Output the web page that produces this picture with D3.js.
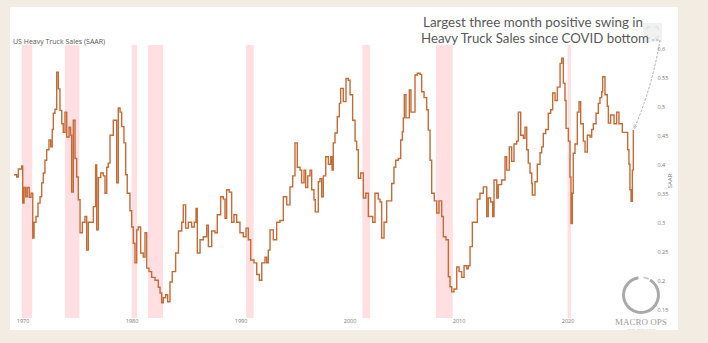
<!DOCTYPE html>
<html>
<head>
<meta charset="utf-8">
<script src="https://cdn.jsdelivr.net/npm/d3@7"></script>
<style>
html,body{margin:0;padding:0;background:#f3ece2;}
svg{display:block;}
</style>
</head>
<body>
<svg id="chart" width="708" height="343"></svg>
<script>
// ---- data ----
const years = [
1969.21,1969.46,1969.61,1969.92,1970.01,1970.13,1970.28,1970.43,1970.61,1970.77,1970.93,1971.05,1971.23,1971.41,1971.6,1971.75,1971.9,
1972.05,1972.21,1972.42,1972.58,1972.72,1972.82,1972.97,1973.13,1973.28,1973.43,1973.59,1973.73,1973.89,1974.05,1974.26,1974.41,1974.5,
1974.65,1974.81,1974.96,1975.11,1975.27,1975.48,1975.72,1975.88,1976.03,1976.25,1976.49,1976.7,1976.8,1976.95,1977.17,1977.4,1977.56,
1977.72,1977.86,1978.02,1978.32,1978.63,1978.78,1978.94,1979.09,1979.3,1979.46,1979.6,1979.85,1980.01,1980.16,1980.31,1980.47,1980.61,
1980.83,1981.07,1981.23,1981.39,1981.6,1981.84,1982.15,1982.45,1982.61,1982.76,1982.91,1983.13,1983.31,1983.52,1983.73,1984.04,1984.3,
1984.6,1984.74,1984.96,1985.2,1985.51,1985.75,1985.91,1986.03,1986.28,1986.58,1986.89,1987.04,1987.35,1987.65,1987.86,1988.17,1988.41,
1988.57,1988.72,1988.96,1989.18,1989.39,1989.64,1989.94,1990.25,1990.5,1990.71,1990.93,1991.23,1991.48,1991.72,1991.94,1992.24,1992.39,
1992.54,1992.7,1993.0,1993.31,1993.61,1993.92,1994.23,1994.53,1994.78,1994.99,1995.2,1995.45,1995.6,1995.82,1995.97,1996.16,1996.37,
1996.52,1996.73,1996.85,1997.13,1997.28,1997.44,1997.59,1997.81,1998.05,1998.27,1998.39,1998.5,1998.66,1998.87,1999.06,1999.18,1999.42,
1999.67,1999.88,2000.04,2000.28,2000.5,2000.65,2000.8,2001.02,2001.26,2001.48,2001.72,2001.94,2002.12,2002.33,2002.63,2002.79,2002.94,
2003.16,2003.4,2003.71,2003.86,2004.07,2004.23,2004.47,2004.69,2004.84,2004.93,2005.02,2005.17,2005.39,2005.48,2005.63,2005.84,2006.0,
2006.21,2006.46,2006.61,2006.83,2007.07,2007.22,2007.38,2007.53,2007.77,2007.99,2008.2,2008.45,2008.6,2008.84,2009.06,2009.21,2009.37,
2009.58,2009.83,2010.04,2010.28,2010.5,2010.74,2010.89,2011.05,2011.26,2011.5,2011.72,2011.96,2012.27,2012.58,2012.72,2012.94,2013.13,
2013.25,2013.5,2013.64,2013.95,2014.26,2014.41,2014.65,2014.87,2015.08,2015.33,2015.48,2015.7,2015.94,2016.09,2016.25,2016.39,2016.55,
2016.71,2016.76,2017.01,2017.22,2017.47,2017.62,2017.77,2017.99,2018.23,2018.45,2018.63,2018.85,2019.06,2019.31,2019.46,2019.61,2019.76,
2019.86,2020.07,2020.22,2020.31,2020.43,2020.52,2020.68,2020.89,2021.05,2021.2,2021.44,2021.6,2021.81,2022.06,2022.21,2022.36,2022.61,
2022.82,2022.97,2023.13,2023.22,2023.43,2023.64,2023.74,2023.95,2024.26,2024.5,2024.71,2025.02,2025.36,2025.51,2025.63,2025.72,2025.82,
2025.94,2026.03
];
const sales = [
0.382,0.378,0.392,0.397,0.333,0.36,0.344,0.36,0.343,0.35,0.273,0.30,0.31,0.333,0.344,0.368,0.385,
0.407,0.425,0.442,0.43,0.46,0.488,0.495,0.559,0.53,0.493,0.47,0.455,0.49,0.447,0.464,0.45,0.352,
0.476,0.41,0.378,0.339,0.282,0.30,0.31,0.252,0.30,0.30,0.327,0.399,0.287,0.377,0.385,0.38,0.35,
0.395,0.402,0.45,0.476,0.368,0.497,0.49,0.465,0.437,0.382,0.35,0.32,0.292,0.264,0.23,0.287,0.292,
0.247,0.24,0.282,0.221,0.215,0.205,0.20,0.188,0.178,0.161,0.17,0.175,0.163,0.197,0.215,0.247,0.285,
0.30,0.33,0.29,0.30,0.292,0.30,0.324,0.247,0.27,0.275,0.295,0.258,0.285,0.282,0.313,0.344,0.34,
0.307,0.356,0.352,0.30,0.313,0.30,0.282,0.275,0.29,0.27,0.235,0.23,0.21,0.20,0.23,0.24,0.23,
0.252,0.287,0.27,0.30,0.303,0.344,0.33,0.361,0.38,0.437,0.395,0.39,0.368,0.39,0.36,0.38,0.39,
0.356,0.339,0.318,0.37,0.375,0.344,0.38,0.413,0.40,0.413,0.39,0.437,0.454,0.482,0.505,0.531,0.508,
0.548,0.545,0.52,0.476,0.44,0.425,0.376,0.385,0.342,0.35,0.31,0.31,0.30,0.35,0.34,0.335,0.273,
0.30,0.337,0.337,0.367,0.395,0.407,0.41,0.442,0.456,0.48,0.52,0.48,0.48,0.528,0.49,0.49,0.554,
0.557,0.555,0.525,0.515,0.494,0.459,0.407,0.35,0.337,0.316,0.337,0.31,0.275,0.27,0.206,0.189,0.18,
0.185,0.223,0.215,0.205,0.225,0.22,0.225,0.258,0.30,0.30,0.34,0.35,0.361,0.31,0.342,0.335,0.31,
0.373,0.342,0.365,0.373,0.413,0.39,0.43,0.405,0.435,0.44,0.49,0.45,0.445,0.464,0.425,0.402,0.385,
0.367,0.347,0.37,0.40,0.42,0.43,0.453,0.46,0.488,0.494,0.523,0.51,0.533,0.574,0.583,0.54,0.51,
0.462,0.44,0.378,0.298,0.35,0.419,0.435,0.49,0.508,0.47,0.44,0.421,0.45,0.447,0.46,0.47,0.488,
0.505,0.515,0.525,0.551,0.52,0.50,0.471,0.485,0.47,0.49,0.47,0.455,0.455,0.425,0.40,0.356,0.336,
0.39,0.459
];
const recessionStart = [1969.92,1973.88,1980.0,1981.5,1990.5,2001.17,2007.92,2020.0];
const recessionEnd   = [1970.88,1975.21,1980.5,1982.88,1991.2,2001.88,2009.46,2020.3];
const xTicks = [1970,1980,1990,2000,2010,2020];
const yTicks = [0.15,0.2,0.25,0.3,0.35,0.4,0.45,0.5,0.55,0.6];
const titleText = "US Heavy Truck Sales (SAAR)";
const yAxisTitle = "SAAR";
const noteLines = ["Largest three month positive swing in","Heavy Truck Sales since COVID bottom"];

// ---- drawing ----
const svg = d3.select("#chart");
const W = 708, H = 343;
svg.append("rect").attr("width",W).attr("height",H).attr("fill","#f3ece2");
svg.append("rect").attr("x",10).attr("y",7).attr("width",668).attr("height",323).attr("fill","#ffffff");

const x = d3.scaleLinear().domain([1969,2028]).range([11.7,654.8]);
const y = d3.scaleLinear().domain([0.135,0.6057]).range([318,45]);

// recession shading
svg.append("g").selectAll("rect").data(recessionStart).join("rect")
  .attr("x",(d)=>x(d))
  .attr("width",(d,i)=>Math.max(1.5,x(recessionEnd[i])-x(d)))
  .attr("y",y.range()[1]).attr("height",y.range()[0]-y.range()[1])
  .attr("fill","#ffdfe2");

// title
svg.append("text").attr("x",13).attr("y",43.5).text(titleText)
  .attr("font-family","Open Sans, sans-serif").attr("font-size",7).attr("fill","#555");

// x axis
const gx = svg.append("g").attr("transform",`translate(0,${y.range()[0]})`)
  .call(d3.axisBottom(x).tickValues(xTicks).tickSize(0).tickPadding(1).tickFormat(d3.format("d")));
gx.select(".domain").remove();
gx.selectAll("text").attr("font-family","Open Sans, sans-serif").attr("font-size",5.5).attr("fill","#777");

// y axis (right)
const gy = svg.append("g").attr("transform",`translate(656,0)`)
  .call(d3.axisRight(y).tickValues(yTicks).tickSize(0).tickPadding(1.5).tickFormat(d=>String(+d.toFixed(2))));
gy.select(".domain").remove();
gy.selectAll("text").attr("font-family","Open Sans, sans-serif").attr("font-size",5.5).attr("fill","#777");

svg.append("text").attr("transform","translate(672,181) rotate(-90)")
  .attr("text-anchor","middle").attr("font-family","Open Sans, sans-serif")
  .attr("font-size",6).attr("fill","#777").text(yAxisTitle);

// line
const pts = years.map((d,i)=>[d,sales[i]]);
const line = d3.line().x(d=>x(d[0])).y(d=>y(d[1])).curve(d3.curveStepAfter);
svg.append("path").datum(pts).attr("d",line)
  .attr("fill","none").attr("stroke","#c46b36").attr("stroke-width",1.4)
  .attr("stroke-linejoin","miter");

// modebar-like box
svg.append("rect").attr("x",643).attr("y",23).attr("width",19).attr("height",19).attr("fill","#f1f1f1");
svg.append("path").attr("d","M647,30 v-3 h3 M655,27 h3 v3 M658,35 v3 h-3 M650,38 h-3 v-3")
  .attr("fill","none").attr("stroke","#dcdcdc").attr("stroke-width",1);

// annotation text
const note = svg.append("g").attr("font-family","Lato, sans-serif")
  .attr("font-size",14).attr("fill","#585858");
note.append("text").attr("x",423).attr("y",27).attr("textLength",220).attr("lengthAdjust","spacingAndGlyphs").text(noteLines[0]);
note.append("text").attr("x",421).attr("y",43).attr("textLength",228).attr("lengthAdjust","spacingAndGlyphs").text(noteLines[1]);

// arrow
const last = pts[pts.length-1];
const ax = x(last[0])+1, ay = y(last[1])-2;
svg.append("defs").append("marker").attr("id","ah").attr("viewBox","0 0 10 10")
  .attr("refX",9).attr("refY",5).attr("markerWidth",5).attr("markerHeight",5).attr("orient","auto")
  .append("path").attr("d","M0,0 L10,5 L0,10").attr("fill","none").attr("stroke","#999").attr("stroke-width",1.5);
svg.append("path").attr("d",`M652,40 L660,40 Q652,88 ${ax},${ay}`)
  .attr("fill","none").attr("stroke","#9a9a9a").attr("stroke-width",0.8)
  .attr("stroke-dasharray","2.5,1.5").attr("marker-end","url(#ah)");

// logo
const logo = svg.append("g");
const arc = d3.arc().innerRadius(16).outerRadius(19);
logo.append("path").attr("transform","translate(641,295)")
  .attr("d",arc({startAngle:0.55,endAngle:2*Math.PI-0.15})).attr("fill","#a9a9a9");
logo.append("path").attr("transform","translate(641,295)")
  .attr("d",d3.arc().innerRadius(17).outerRadius(18.5)({startAngle:0.15,endAngle:0.45})).attr("fill","#c4c4c4");
logo.append("text").attr("x",641).attr("y",325).attr("text-anchor","middle")
  .attr("font-family","Liberation Serif, serif").attr("font-size",9).attr("fill","#9a9a9a").text("MACRO OPS");
logo.append("text").attr("x",641).attr("y",329.5).attr("text-anchor","middle")
  .attr("font-family","Open Sans, sans-serif").attr("font-size",2.5).attr("fill","#bbb").text("TRADE · LEARN · THRIVE");
</script>
</body>
</html>
